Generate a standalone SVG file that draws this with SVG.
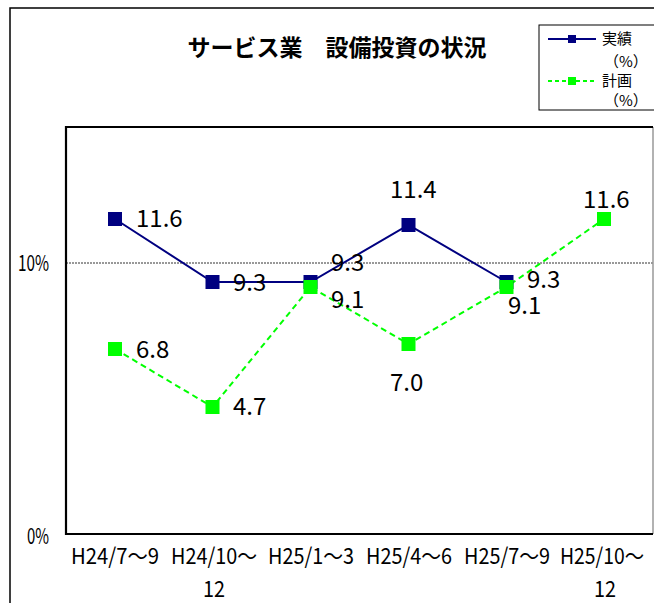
<svg xmlns="http://www.w3.org/2000/svg" width="654" height="603" viewBox="0 0 654 603">
<style>
.t{font-family:"Noto Sans CJK JP","Noto Sans",sans-serif;fill:#000}
.title{font-size:23px;font-weight:bold}
.lbl{font-size:24px}
.ax{font-size:22px}
.leg{font-size:15px}
.navy{stroke:#000080;stroke-width:2;fill:none}
.green{stroke:#00FF00;stroke-width:2;fill:none;stroke-dasharray:6,4}
.mn{fill:#000080}
.mg{fill:#00FF00}
</style>
<rect x="0" y="0" width="654" height="603" fill="#fff"/>
<g id="chart-frame">
<rect x="10" y="8" width="670" height="620" fill="#fff" stroke="#000" stroke-width="1.5"/>
</g>
<g id="title">
<text class="t title" x="337" y="56" text-anchor="middle">サービス業　設備投資の状況</text>
</g>
<g id="plot-area">
<rect x="66" y="127" width="587" height="407" fill="#fff"/>
<line x1="66" y1="263" x2="653" y2="263" stroke="#333" stroke-width="1" stroke-dasharray="2,1"/>
<line x1="653" y1="127" x2="653" y2="534" stroke="#999" stroke-width="1.5"/>
<polyline points="653,127 66,127 66,534 653,534" fill="none" stroke="#000" stroke-width="2.2"/>
</g>
<g id="y-axis">
<text class="t ax" x="18" y="271" textLength="31" lengthAdjust="spacingAndGlyphs">10%</text>
<text class="t ax" x="27" y="544" textLength="22" lengthAdjust="spacingAndGlyphs">0%</text>
</g>
<g id="x-axis">
<text class="t ax" x="71" y="564" textLength="88" lengthAdjust="spacingAndGlyphs">H24/7～9</text>
<text class="t ax" x="171" y="564" textLength="86" lengthAdjust="spacingAndGlyphs">H24/10～</text>
<text class="t ax" x="203" y="597" textLength="22" lengthAdjust="spacingAndGlyphs">12</text>
<text class="t ax" x="268" y="564" textLength="86" lengthAdjust="spacingAndGlyphs">H25/1～3</text>
<text class="t ax" x="366" y="564" textLength="86" lengthAdjust="spacingAndGlyphs">H25/4～6</text>
<text class="t ax" x="464" y="564" textLength="86" lengthAdjust="spacingAndGlyphs">H25/7～9</text>
<text class="t ax" x="560" y="564" textLength="84" lengthAdjust="spacingAndGlyphs">H25/10～</text>
<text class="t ax" x="594" y="597" textLength="22" lengthAdjust="spacingAndGlyphs">12</text>
</g>
<g id="connectors">
<polyline class="navy" points="115,219 212.5,282 310.5,282 408.5,225 506.5,282"/>
<polyline class="green" points="115,349 212.5,407 310.5,287 408.5,344 506.5,287 604,219"/>
</g>
<g id="series-jisseki">
<rect class="mn" x="108" y="212" width="14" height="14"/>
<rect class="mn" x="205.5" y="275" width="14" height="14"/>
<rect class="mn" x="303.5" y="275" width="14" height="14"/>
<rect class="mn" x="401.5" y="218" width="14" height="14"/>
<rect class="mn" x="499.5" y="275" width="14" height="14"/>
</g>
<g id="series-keikaku">
<rect class="mg" x="108" y="342" width="14" height="14"/>
<rect class="mg" x="205.5" y="400" width="14" height="14"/>
<rect class="mg" x="303.5" y="280" width="14" height="14"/>
<rect class="mg" x="401.5" y="337" width="14" height="14"/>
<rect class="mg" x="499.5" y="280" width="14" height="14"/>
<rect class="mg" x="597" y="212" width="14" height="14"/>
</g>
<g id="data-labels">
<text class="t lbl" x="136" y="227">11.6</text>
<text class="t lbl" x="233" y="291">9.3</text>
<text class="t lbl" x="331" y="271">9.3</text>
<text class="t lbl" x="390" y="198">11.4</text>
<text class="t lbl" x="527" y="288">9.3</text>
<text class="t lbl" x="136" y="358">6.8</text>
<text class="t lbl" x="233" y="415">4.7</text>
<text class="t lbl" x="331" y="308">9.1</text>
<text class="t lbl" x="508" y="314">9.1</text>
<text class="t lbl" x="390" y="391">7.0</text>
<text class="t lbl" x="583" y="208">11.6</text>
</g>
<g id="legend">
<rect x="539" y="25" width="130" height="85" fill="#fff" stroke="#000" stroke-width="1"/>
<line x1="548" y1="39" x2="596" y2="39" stroke="#000080" stroke-width="2"/>
<rect class="mn" x="568" y="35" width="8" height="8"/>
<text class="t leg" x="602" y="44">実績</text>
<text class="t leg" x="604" y="67">（%）</text>
<line x1="548" y1="81" x2="596" y2="81" stroke="#00FF00" stroke-width="2" stroke-dasharray="4,3"/>
<rect class="mg" x="568" y="77" width="8" height="8"/>
<text class="t leg" x="602" y="86">計画</text>
<text class="t leg" x="604" y="106">（%）</text>
</g>
</svg>
